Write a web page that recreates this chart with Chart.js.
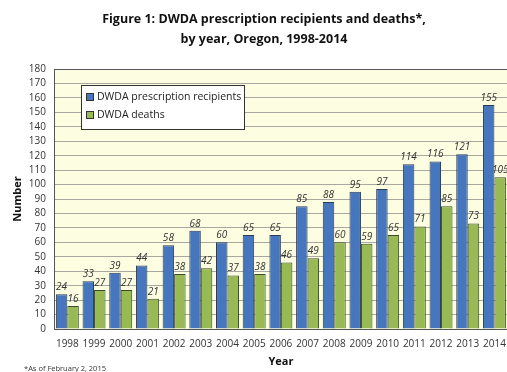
<!DOCTYPE html>
<html>
<head>
<meta charset="utf-8">
<script src="https://cdn.jsdelivr.net/npm/chart.js@4/dist/chart.umd.min.js"></script>
<style>
html,body{margin:0;padding:0;background:#fff;overflow:hidden;width:507px;height:372px;}
#wrap{position:absolute;left:0;top:0;width:515px;height:372px;}
</style>
</head>
<body>
<div id="wrap"><canvas id="c" width="515" height="372"></canvas></div>
<script>
const years = ['1998','1999','2000','2001','2002','2003','2004','2005','2006','2007','2008','2009','2010','2011','2012','2013','2014'];
const recipients = [24,33,39,44,58,68,60,65,65,85,88,95,97,114,116,121,155];
const deaths = [16,27,27,21,38,42,37,38,46,49,60,59,65,71,85,73,105];
const yTicks = [0,10,20,30,40,50,60,70,80,90,100,110,120,130,140,150,160,170,180];
const titleLines = ['Figure 1: DWDA prescription recipients and deaths*,', 'by year, Oregon, 1998-2014'];
const footnote = '*As of February 2, 2015';
const seriesNames = ['DWDA prescription recipients', 'DWDA deaths'];

const FONT = '"Open Sans", "Liberation Sans", sans-serif';

const plotBg = {
  id: 'plotBg',
  beforeDraw(chart) {
    const {ctx, chartArea: a} = chart;
    ctx.save();
    ctx.fillStyle = '#FDFDE1';
    ctx.fillRect(a.left, a.top, a.right - a.left, a.bottom - a.top);
    ctx.restore();
  },
  afterDatasetsDraw(chart) {
    const {ctx, chartArea: a} = chart;
    ctx.save();
    ctx.strokeStyle = '#555';
    ctx.lineWidth = 1;
    ctx.strokeRect(a.left + 0.5, a.top + 0.5, a.right - a.left, a.bottom - a.top);
    ctx.font = 'italic 10px ' + FONT;
    ctx.fillStyle = '#333';
    ctx.textAlign = 'center';
    ctx.textBaseline = 'bottom';
    chart.data.datasets.forEach((ds, i) => {
      const meta = chart.getDatasetMeta(i);
      meta.data.forEach((bar, j) => {
        ctx.fillText(String(ds.data[j]), bar.x, bar.y - 2);
      });
    });
    const lx = 81, ly = 85, lw = 163, lh = 44;
    ctx.fillStyle = '#fff';
    ctx.fillRect(lx, ly, lw, lh);
    ctx.strokeStyle = '#333';
    ctx.strokeRect(lx + 0.5, ly + 0.5, lw, lh);
    ctx.font = '10.5px ' + FONT;
    ctx.textAlign = 'left';
    ctx.textBaseline = 'middle';
    chart.data.datasets.forEach((ds, i) => {
      const yy = ly + 12 + i * 18;
      ctx.fillStyle = ds.backgroundColor;
      ctx.fillRect(lx + 5, yy - 4, 8, 8);
      ctx.strokeStyle = '#333';
      ctx.strokeRect(lx + 5.5, yy - 3.5, 7, 7);
      ctx.fillStyle = '#222';
      ctx.fillText(ds.label, lx + 16, yy);
    });
    ctx.restore();
  },
  afterDraw(chart) {
    const {ctx} = chart;
    ctx.save();
    ctx.fillStyle = '#111';
    ctx.textAlign = 'center';
    ctx.textBaseline = 'middle';
    ctx.font = 'bold 12.5px ' + FONT;
    ctx.fillText(titleLines[0], 264, 19);
    ctx.fillText(titleLines[1], 264, 39);
    ctx.font = '7.5px ' + FONT;
    ctx.textAlign = 'left';
    ctx.fillStyle = '#333';
    ctx.fillText(footnote, 24, 369);
    ctx.restore();
  }
};

new Chart(document.getElementById('c'), {
  type: 'bar',
  data: {
    labels: years,
    datasets: [
      {label: seriesNames[0], data: recipients, backgroundColor: '#4677BE', borderColor: '#2B3A55', borderWidth: 1},
      {label: seriesNames[1], data: deaths, backgroundColor: '#98BA55', borderColor: '#3A4A2A', borderWidth: 1}
    ]
  },
  options: {
    responsive: false,
    animation: false,
    devicePixelRatio: 1,
    layout: {padding: {top: 69, right: 5, left: 0, bottom: 4}},
    datasets: {bar: {categoryPercentage: 0.86, barPercentage: 1.0}},
    plugins: {legend: {display: false}, tooltip: {enabled: false}, title: {display: false}},
    scales: {
      x: {
        grid: {display: false, drawTicks: false},
        border: {color: '#555'},
        ticks: {font: {family: FONT, size: 10}, color: '#333', padding: 9, maxRotation: 0, autoSkip: false},
        title: {display: true, text: 'Year', font: {family: FONT, size: 11, weight: 'bold'}, color: '#111', padding: {top: 0, bottom: 0}},
        afterFit(s) { s.height = 39; }
      },
      y: {
        min: 0, max: 180,
        afterBuildTicks(s) { s.ticks = yTicks.map(v => ({value: v})); },
        grid: {color: '#A8A8A0', drawTicks: false},
        border: {color: '#555'},
        ticks: {font: {family: FONT, size: 10}, color: '#333', padding: 8, autoSkip: false},
        title: {display: true, text: 'Number', font: {family: FONT, size: 11, weight: 'bold'}, color: '#111', padding: {top: 11, bottom: 4}},
        afterFit(s) { s.width = 54; }
      }
    }
  },
  plugins: [plotBg]
});
</script>
</body>
</html>
